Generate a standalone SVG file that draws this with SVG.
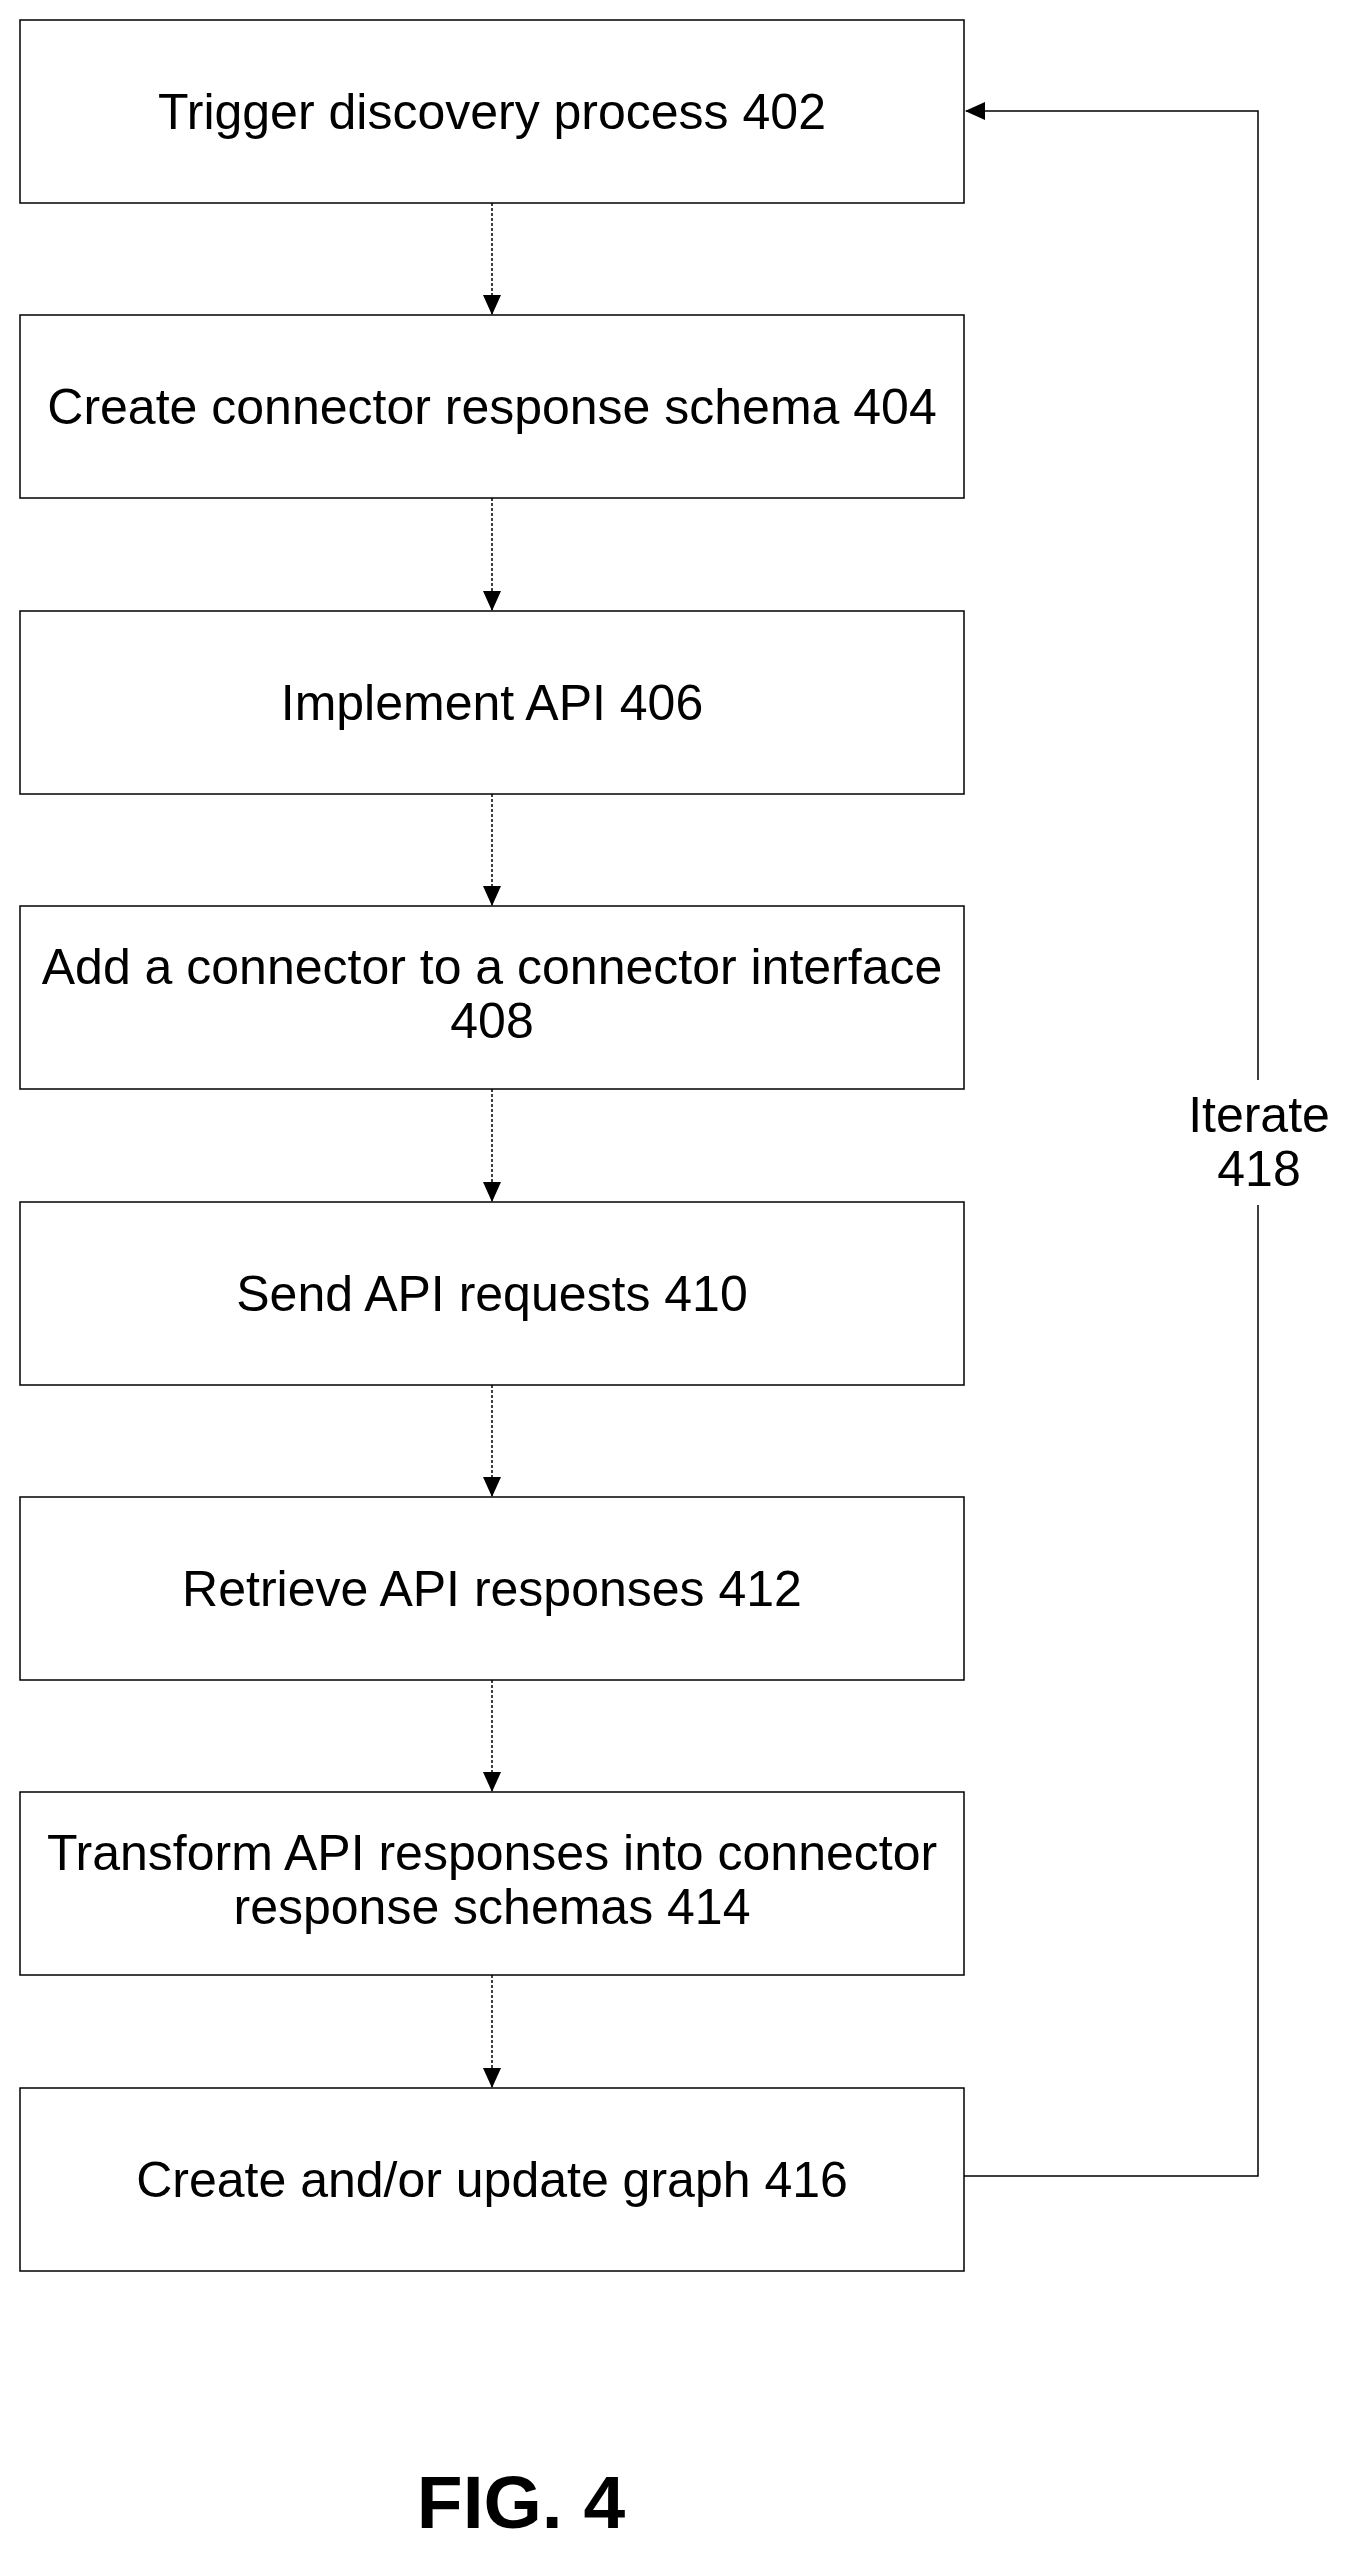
<svg xmlns="http://www.w3.org/2000/svg" width="1352" height="2557" viewBox="0 0 1352 2557">
<style>
.b{fill:#fff;stroke:#000;stroke-width:1.5}
.t{font-family:"Liberation Sans",Arial,sans-serif;font-size:50px;text-anchor:middle;fill:#000}
.c{stroke:#000;stroke-width:1.5;fill:none}
.d{stroke-dasharray:3 2}
</style>
<defs><marker id="a" markerWidth="20" markerHeight="18" refX="19" refY="9" orient="auto" markerUnits="userSpaceOnUse"><path d="M0,0 L20,9 L0,18 Z" fill="#000"/></marker></defs>
<rect width="1352" height="2557" fill="#fff"/>
<g id="n402"><rect class="b" x="20" y="20" width="944" height="183"/><text class="t" x="492" y="129">Trigger discovery process 402</text></g>
<g id="n404"><rect class="b" x="20" y="315" width="944" height="183"/><text class="t" x="492" y="424">Create connector response schema 404</text></g>
<g id="n406"><rect class="b" x="20" y="611" width="944" height="183"/><text class="t" x="492" y="720">Implement API 406</text></g>
<g id="n408"><rect class="b" x="20" y="906" width="944" height="183"/><text class="t" x="492" y="984">Add a connector to a connector interface</text><text class="t" x="492" y="1038">408</text></g>
<g id="n410"><rect class="b" x="20" y="1202" width="944" height="183"/><text class="t" x="492" y="1311">Send API requests 410</text></g>
<g id="n412"><rect class="b" x="20" y="1497" width="944" height="183"/><text class="t" x="492" y="1606">Retrieve API responses 412</text></g>
<g id="n414"><rect class="b" x="20" y="1792" width="944" height="183"/><text class="t" x="492" y="1870">Transform API responses into connector</text><text class="t" x="492" y="1924">response schemas 414</text></g>
<g id="n416"><rect class="b" x="20" y="2088" width="944" height="183"/><text class="t" x="492" y="2197">Create and/or update graph 416</text></g>
<g id="connectors">
<line class="c d" x1="492" y1="203" x2="492" y2="314" marker-end="url(#a)"/>
<line class="c d" x1="492" y1="498" x2="492" y2="610" marker-end="url(#a)"/>
<line class="c d" x1="492" y1="794" x2="492" y2="905" marker-end="url(#a)"/>
<line class="c d" x1="492" y1="1089" x2="492" y2="1201" marker-end="url(#a)"/>
<line class="c d" x1="492" y1="1385" x2="492" y2="1496" marker-end="url(#a)"/>
<line class="c d" x1="492" y1="1680" x2="492" y2="1791" marker-end="url(#a)"/>
<line class="c d" x1="492" y1="1975" x2="492" y2="2087" marker-end="url(#a)"/>
<polyline class="c" points="964,2176 1258,2176 1258,111 966,111" marker-end="url(#a)"/>
<rect x="1180" y="1080" width="165" height="125" fill="#fff"/>
<text class="t" x="1259" y="1132">Iterate</text><text class="t" x="1259" y="1186">418</text>
</g>
<text x="521" y="2528" style="font-family:'Liberation Sans',Arial,sans-serif;font-size:75px;font-weight:bold;text-anchor:middle">FIG. 4</text>
</svg>
